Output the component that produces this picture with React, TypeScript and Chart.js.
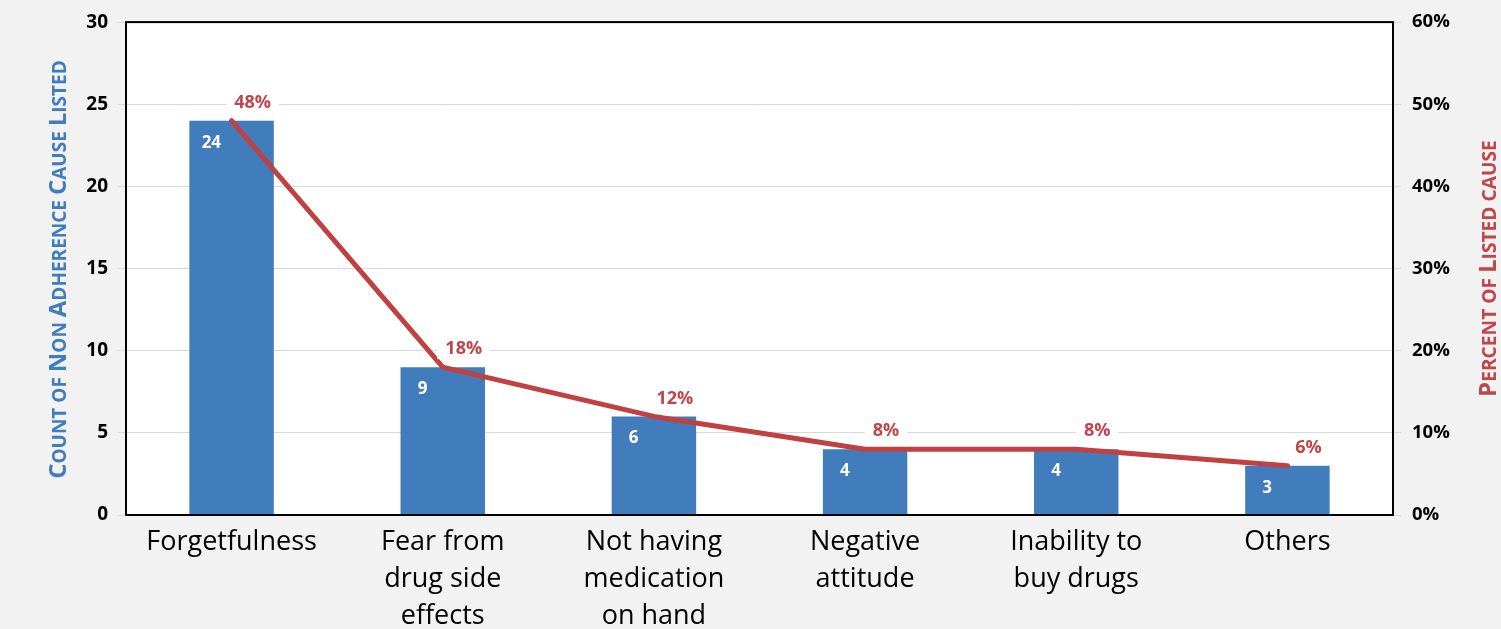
import React, { useEffect, useRef } from 'react';
import { Chart, registerables } from 'chart.js';

Chart.register(...registerables);

const categories: string[][] = [
  ['Forgetfulness'],
  ['Fear from', 'drug side', 'effects'],
  ['Not having', 'medication', 'on hand'],
  ['Negative', 'attitude'],
  ['Inability to', 'buy drugs'],
  ['Others'],
];
const counts = [24, 9, 6, 4, 4, 3];
const percents = [48, 18, 12, 8, 8, 6];
const countTicks = [0, 5, 10, 15, 20, 25, 30];
const percentTicks = [0, 10, 20, 30, 40, 50, 60];
const percentTickLabels = ['0%', '10%', '20%', '30%', '40%', '50%', '60%'];
const leftTitle = 'Count of Non Adherence Cause Listed';
const rightTitle = 'Percent of Listed cause';

const BLUE = '#417cbc';
const RED = '#c0413f';
const RED_TEXT = '#c0464a';
const FONT = '"Open Sans", "DejaVu Sans", sans-serif';

function drawSmallCaps(
  ctx: CanvasRenderingContext2D,
  text: string,
  cx: number,
  cy: number,
  big: number,
  small: number,
  color: string
) {
  const parts = [...text].map((ch) => {
    const isUp = ch !== ch.toLowerCase() && ch === ch.toUpperCase();
    return { ch: ch.toUpperCase(), size: isUp ? big : small };
  });
  let total = 0;
  const widths: number[] = [];
  for (const p of parts) {
    ctx.font = `bold ${p.size}px ${FONT}`;
    const w = ctx.measureText(p.ch).width;
    widths.push(w);
    total += w;
  }
  ctx.save();
  ctx.translate(cx, cy);
  ctx.rotate(-Math.PI / 2);
  ctx.fillStyle = color;
  ctx.textBaseline = 'alphabetic';
  ctx.textAlign = 'left';
  let x = -total / 2;
  const base = (big * 0.714) / 2;
  parts.forEach((p, i) => {
    ctx.font = `bold ${p.size}px ${FONT}`;
    ctx.fillText(p.ch, x, base);
    x += widths[i];
  });
  ctx.restore();
}

const decorPlugin = {
  id: 'decor',
  beforeDraw(chart: any) {
    const { ctx, chartArea } = chart;
    ctx.save();
    ctx.fillStyle = '#ffffff';
    ctx.fillRect(chartArea.left, chartArea.top, chartArea.right - chartArea.left, chartArea.bottom - chartArea.top);
    ctx.restore();
  },
  afterDatasetsDraw(chart: any) {
    const { ctx, chartArea } = chart;
    ctx.save();
    ctx.strokeStyle = '#000000';
    ctx.lineWidth = 2;
    ctx.strokeRect(chartArea.left, chartArea.top, chartArea.right - chartArea.left, chartArea.bottom - chartArea.top);
    ctx.restore();

    const barMeta = chart.getDatasetMeta(0);
    ctx.save();
    ctx.fillStyle = '#ffffff';
    ctx.font = `bold 17px ${FONT}`;
    ctx.textAlign = 'center';
    ctx.textBaseline = 'middle';
    barMeta.data.forEach((bar: any, i: number) => {
      const left = bar.x - bar.width / 2;
      ctx.fillText(String(counts[i]), left + 22, bar.y + 22);
    });
    ctx.restore();

    const lineMeta = chart.getDatasetMeta(1);
    ctx.save();
    ctx.font = `bold 18px ${FONT}`;
    ctx.textAlign = 'center';
    ctx.textBaseline = 'middle';
    lineMeta.data.forEach((pt: any, i: number) => {
      const txt = percents[i] + '%';
      const w = ctx.measureText(txt).width;
      const lx = pt.x + 21;
      const ly = pt.y - 19;
      ctx.fillStyle = '#ffffff';
      ctx.fillRect(lx - w / 2 - 8, ly - 11, w + 16, 22);
      ctx.fillStyle = RED_TEXT;
      ctx.fillText(txt, lx, ly + 1);
    });
    ctx.restore();

    const midY = (chartArea.top + chartArea.bottom) / 2;
    drawSmallCaps(ctx, leftTitle, 57, midY + 1, 24, 19, BLUE);
    drawSmallCaps(ctx, rightTitle, 1487, midY, 24, 19.2, RED_TEXT);
  },
};

export default function App() {
  const ref = useRef<HTMLCanvasElement | null>(null);
  useEffect(() => {
    document.body.style.margin = '0';
    const canvas = ref.current;
    if (!canvas) return;
    const chart = new Chart(canvas, {
      data: {
        labels: categories,
        datasets: [
          {
            type: 'bar',
            data: counts,
            backgroundColor: BLUE,
            barPercentage: 0.4,
            categoryPercentage: 1.0,
            yAxisID: 'y',
            order: 2,
          },
          {
            type: 'line',
            data: percents,
            borderColor: RED,
            borderWidth: 5,
            pointRadius: 0,
            tension: 0,
            borderCapStyle: 'round',
            borderJoinStyle: 'round',
            yAxisID: 'y1',
            order: 1,
          },
        ] as any,
      },
      options: {
        animation: false,
        responsive: true,
        maintainAspectRatio: false,
        layout: { padding: { top: 19, left: 0, right: 0, bottom: 0 } },
        plugins: { legend: { display: false }, tooltip: { enabled: false } },
        scales: {
          x: {
            grid: { display: false, drawTicks: false },
            border: { display: false },
            ticks: {
              color: '#000000',
              padding: 9,
              maxRotation: 0,
              autoSkip: false,
              font: { family: FONT, size: 27, lineHeight: '37px' as any },
            },
            afterFit: (s: any) => {
              s.height = 114;
            },
          },
          y: {
            position: 'left',
            min: 0,
            max: 30,
            grid: { color: '#d9d9d9', lineWidth: 1, tickLength: 8, drawTicks: true },
            border: { display: false },
            ticks: {
              color: '#000000',
              padding: 10,
              font: { family: FONT, size: 19, weight: 'bold' },
            },
            afterBuildTicks: (s: any) => {
              s.ticks = countTicks.map((v) => ({ value: v }));
            },
            afterFit: (s: any) => {
              s.width = 126;
            },
          },
          y1: {
            position: 'right',
            min: 0,
            max: 60,
            grid: { color: '#d9d9d9', lineWidth: 1, tickLength: 8, drawTicks: true, drawOnChartArea: false },
            border: { display: false },
            ticks: {
              color: '#000000',
              padding: 11,
              font: { family: FONT, size: 18.5, weight: 'bold' },
              callback: (v: any) => {
                const idx = percentTicks.indexOf(Number(v));
                return idx >= 0 ? percentTickLabels[idx] : '';
              },
            },
            afterBuildTicks: (s: any) => {
              s.ticks = percentTicks.map((v) => ({ value: v }));
            },
            afterFit: (s: any) => {
              s.width = 108;
            },
          },
        },
      } as any,
      plugins: [decorPlugin],
    });
    return () => chart.destroy();
  }, []);

  return (
    <div style={{ width: 1501, height: 629, background: '#f2f2f2', position: 'relative' }}>
      <canvas ref={ref} />
    </div>
  );
}
